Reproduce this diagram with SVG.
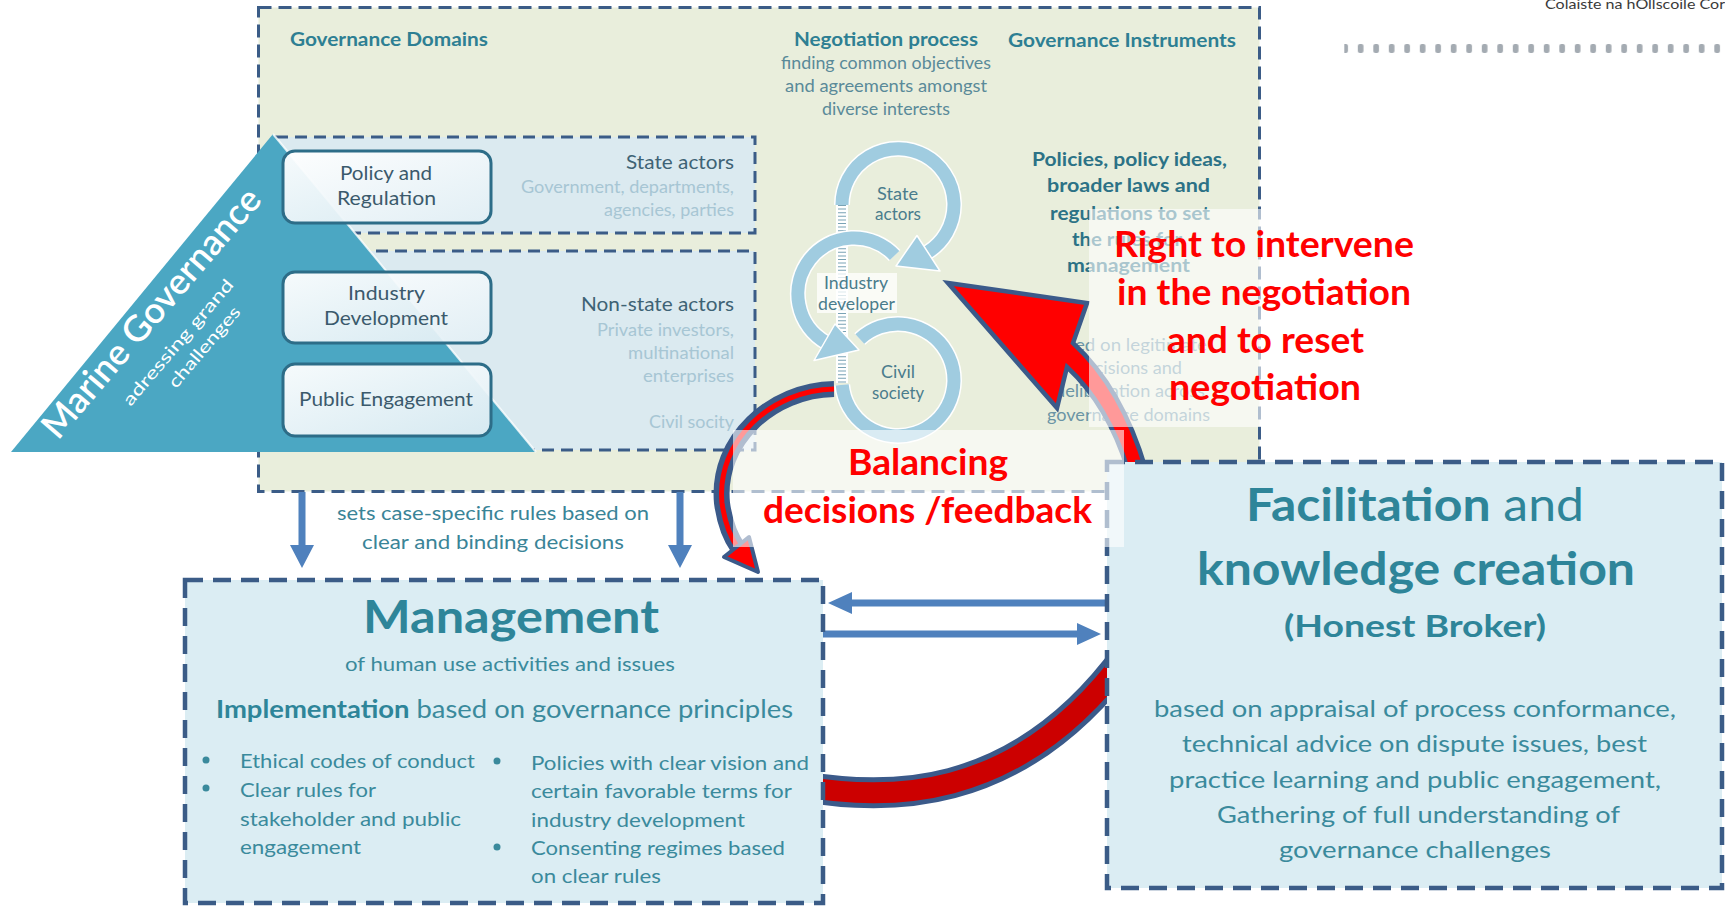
<svg xmlns="http://www.w3.org/2000/svg" width="1725" height="906" viewBox="0 0 1725 906">
<defs>
<style>
text{font-family:Lato,"Liberation Sans",Arial,sans-serif}
.dtop{fill:#e9eedc;stroke:#3b5c87;stroke-width:3;stroke-dasharray:13 7}
.din{fill:#dbeaf0;stroke:#3b5c87;stroke-width:3;stroke-dasharray:12 7}
.dbig{fill:#dbedf3;stroke:#3b5c87;stroke-width:4.5;stroke-dasharray:18 10}
.pill{fill:url(#pillg);stroke:#2d6d88;stroke-width:3}
.pt{font-size:20px;fill:#3b5a6c}
.h{font-weight:bold;fill:#2e7f93;font-size:19px}
.sa{font-size:19px;fill:#3e6375}
.sub{font-size:16.5px;fill:#a7c6d4}
.neg{font-size:16.5px;fill:#5a8a99}
.pol{font-size:19px;font-weight:bold;fill:#2c7286}
.leg{font-size:16.5px;fill:#6b95a5}
.rw{fill:none;stroke:#fff;stroke-width:16}
.rg{fill:none;stroke:#a0cce0;stroke-width:13}
.rh{fill:#a0cce0;stroke:#fff;stroke-width:1.5;stroke-linejoin:round}
.rt{font-size:16.5px;fill:#4a7c8c}
.blue{fill:#4f81bd}
.bt{fill:#3a8a9c}
.red{fill:#ff0000;font-weight:bold;font-size:36px}
.ov{fill:#fff;fill-opacity:.6}
</style>
<linearGradient id="pillg" x1="0" y1="0" x2="1" y2="1"><stop offset="0" stop-color="#ffffff" stop-opacity=".95"/><stop offset="1" stop-color="#e2eff5" stop-opacity=".92"/></linearGradient>
<pattern id="dots" x="1342.3" y="44" width="15.5" height="9" patternUnits="userSpaceOnUse"><rect width="5.7" height="9" rx="2" fill="#a4abb2"/></pattern>
</defs>

<g id="logo">
<text x="1545" y="8.5" font-size="12.5" fill="#3a3a3a" textLength="180" lengthAdjust="spacingAndGlyphs">Colaiste na hOllscoile Cor</text>
<rect x="1344.3" y="44" width="381" height="9" fill="url(#dots)"/>
</g>

<g id="top-panel">
<rect class="dtop" x="258.5" y="7.5" width="1001" height="484"/>
<rect class="din" x="276" y="137" width="479" height="96"/>
<rect class="din" x="300" y="251" width="455" height="199"/>
<text class="h" x="290" y="46" textLength="198" lengthAdjust="spacingAndGlyphs">Governance Domains</text>
<text class="sa" x="626" y="169" textLength="108" lengthAdjust="spacingAndGlyphs">State actors</text>
<text class="sub" x="521" y="193" textLength="213" lengthAdjust="spacingAndGlyphs">Government, departments,</text>
<text class="sub" x="604" y="216" textLength="130" lengthAdjust="spacingAndGlyphs">agencies, parties</text>
<text class="sa" x="581" y="311" textLength="153" lengthAdjust="spacingAndGlyphs">Non-state actors</text>
<text class="sub" x="597" y="336" textLength="137" lengthAdjust="spacingAndGlyphs">Private investors,</text>
<text class="sub" x="628" y="359" textLength="106" lengthAdjust="spacingAndGlyphs">multinational</text>
<text class="sub" x="643" y="382" textLength="91" lengthAdjust="spacingAndGlyphs">enterprises</text>
<text class="sub" x="649" y="428" textLength="85" lengthAdjust="spacingAndGlyphs">Civil socity</text>
</g>

<g id="marine-governance">
<polygon points="11,452 273,134 536,452" fill="#4ba7c3"/>
<line x1="273" y1="134" x2="536" y2="452" stroke="#fff" stroke-width="2" stroke-opacity=".8"/>
<g transform="translate(58 441) rotate(-49.5)" fill="#fff">
<text x="0" y="0" font-family="'Open Sans',Lato,sans-serif" font-weight="600" font-size="36" textLength="316" lengthAdjust="spacingAndGlyphs">Marine Governance</text>
<text x="73" y="33" font-size="17" textLength="160" lengthAdjust="spacingAndGlyphs">adressing grand</text>
<text x="116" y="56" font-size="17" textLength="101" lengthAdjust="spacingAndGlyphs">challenges</text>
</g>
</g>

<g id="policy-regulation">
<rect class="pill" x="283" y="151" width="208" height="72" rx="12"/>
<text class="pt" x="340" y="180" textLength="92" lengthAdjust="spacingAndGlyphs">Policy and</text>
<text class="pt" x="337" y="205" textLength="99" lengthAdjust="spacingAndGlyphs">Regulation</text>
</g>
<g id="industry-development">
<rect class="pill" x="283" y="272" width="208" height="71" rx="12"/>
<text class="pt" x="348" y="300" textLength="77" lengthAdjust="spacingAndGlyphs">Industry</text>
<text class="pt" x="324" y="325" textLength="124" lengthAdjust="spacingAndGlyphs">Development</text>
</g>
<g id="public-engagement">
<rect class="pill" x="283" y="364" width="208" height="72" rx="12"/>
<text class="pt" x="299" y="406" textLength="174" lengthAdjust="spacingAndGlyphs">Public Engagement</text>
</g>

<g id="negotiation-process">
<text class="h" x="794" y="46" textLength="184" lengthAdjust="spacingAndGlyphs">Negotiation process</text>
<text class="neg" x="781" y="69" textLength="210" lengthAdjust="spacingAndGlyphs">finding common objectives</text>
<text class="neg" x="785" y="92" textLength="202" lengthAdjust="spacingAndGlyphs">and agreements amongst</text>
<text class="neg" x="822" y="115" textLength="128" lengthAdjust="spacingAndGlyphs">diverse interests</text>
<rect x="836" y="205" width="12" height="178" fill="#fff"/>
<line x1="842" y1="205" x2="842" y2="383" stroke="#7aa3b5" stroke-width="8" stroke-dasharray="1 2.6"/>
<path class="rw" d="M859.8 339 A56 56 0 1 1 842.2 384.9"/>
<path class="rg" d="M859.8 339 A56 56 0 1 1 842.2 384.9"/>
<path class="rw" d="M894.6 255.5 A56 56 0 1 0 826 342.5"/>
<path class="rg" d="M894.6 255.5 A56 56 0 1 0 826 342.5"/>
<polygon class="rh" points="835,324 814,360.5 859,350"/>
<path class="rw" d="M842 205 A56 56 0 1 1 928 252"/>
<path class="rg" d="M842 205 A56 56 0 1 1 928 252"/>
<polygon class="rh" points="917,235.5 940,271 896,266"/>
<rect x="817" y="273" width="80" height="40" fill="#fff" fill-opacity=".75"/>
<text class="rt" x="877" y="200" textLength="41" lengthAdjust="spacingAndGlyphs">State</text>
<text class="rt" x="875" y="220" textLength="46" lengthAdjust="spacingAndGlyphs">actors</text>
<text class="rt" x="824" y="289" textLength="64" lengthAdjust="spacingAndGlyphs">Industry</text>
<text class="rt" x="818" y="310" textLength="77" lengthAdjust="spacingAndGlyphs">developer</text>
<text class="rt" x="881" y="378" textLength="34" lengthAdjust="spacingAndGlyphs">Civil</text>
<text class="rt" x="872" y="399" textLength="52" lengthAdjust="spacingAndGlyphs">society</text>
</g>

<g id="governance-instruments">
<text class="h" x="1008" y="47" textLength="228" lengthAdjust="spacingAndGlyphs">Governance Instruments</text>
<text class="pol" x="1032" y="166" textLength="195" lengthAdjust="spacingAndGlyphs">Policies, policy ideas,</text>
<text class="pol" x="1047" y="192" textLength="163" lengthAdjust="spacingAndGlyphs">broader laws and</text>
<text class="pol" x="1050" y="220" textLength="160" lengthAdjust="spacingAndGlyphs">regulations to set</text>
<text class="pol" x="1072" y="246" textLength="110" lengthAdjust="spacingAndGlyphs">the rules for</text>
<text class="pol" x="1067" y="272" textLength="123" lengthAdjust="spacingAndGlyphs">management</text>
<text class="leg" x="1047" y="351" textLength="160" lengthAdjust="spacingAndGlyphs">based on legitimate</text>
<text class="leg" x="1075" y="374" textLength="107" lengthAdjust="spacingAndGlyphs">decisions and</text>
<text class="leg" x="1055" y="397" textLength="150" lengthAdjust="spacingAndGlyphs">deliberation across</text>
<text class="leg" x="1047" y="421" textLength="163" lengthAdjust="spacingAndGlyphs">governance domains</text>
</g>

<g id="connectors">
<polygon class="blue" points="298.5,492 305.5,492 305.5,545 314,545 302,568 290,545 298.5,545"/>
<polygon class="blue" points="676.5,492 683.5,492 683.5,545 692,545 680,568 668,545 676.5,545"/>
<polygon class="blue" points="1107,599.5 852,599.5 852,592 828,603 852,614 852,606.5 1107,606.5"/>
<polygon class="blue" points="823,630.5 1077,630.5 1077,623 1101,634 1077,645 1077,637.5 823,637.5"/>
<path d="M800 786 C880 800 1015 808 1127 655" fill="none" stroke="#3b5a8a" stroke-width="31"/>
<path d="M800 786 C880 800 1015 808 1127 655" fill="none" stroke="#cc0000" stroke-width="21"/>
<path d="M834 389 C772 390 716 440 722 503 C725 525 731 538 738 548" fill="none" stroke="#3b5a8a" stroke-width="16"/>
<path d="M834 389 C772 390 716 440 722 503 C725 525 731 538 738 548" fill="none" stroke="#ff0000" stroke-width="5"/>
<polygon points="724,557 749,537 758,572" fill="#ff0000" stroke="#3b5a8a" stroke-width="4" stroke-linejoin="round"/>
<path d="M948 283 L1087 303 L1073 343 Q1122 388 1146 470 L1128 470 Q1108 405 1067 367 L1057 408 Z" fill="#ff0000" stroke="#3b5a8a" stroke-width="4.5"/>
<text x="337" y="520" font-size="19.5" fill="#3a8497" textLength="312" lengthAdjust="spacingAndGlyphs">sets case-specific rules based on</text>
<text x="362" y="549" font-size="19.5" fill="#3a8497" textLength="262" lengthAdjust="spacingAndGlyphs">clear and binding decisions</text>
</g>

<g id="management">
<rect class="dbig" x="185" y="580" width="638" height="323"/>
<text x="363" y="633" font-size="45" font-weight="bold" fill="#2e8599" textLength="296" lengthAdjust="spacingAndGlyphs">Management</text>
<text class="bt" x="345" y="671" font-size="20" textLength="330" lengthAdjust="spacingAndGlyphs">of human use activities and issues</text>
<text class="bt" x="216" y="718" font-size="25" textLength="577" lengthAdjust="spacingAndGlyphs"><tspan font-weight="bold" fill="#2e8599">Implementation</tspan> based on governance principles</text>
<g class="bt" font-size="20">
<circle cx="206" cy="760" r="3.5"/><circle cx="206" cy="788" r="3.5"/>
<circle cx="497" cy="761" r="3.5"/><circle cx="497" cy="847" r="3.5"/>
<text x="240" y="768" textLength="235" lengthAdjust="spacingAndGlyphs">Ethical codes of conduct</text>
<text x="240" y="797" textLength="136" lengthAdjust="spacingAndGlyphs">Clear rules for</text>
<text x="240" y="826" textLength="221" lengthAdjust="spacingAndGlyphs">stakeholder and public</text>
<text x="240" y="854" textLength="121" lengthAdjust="spacingAndGlyphs">engagement</text>
<text x="531" y="770" textLength="278" lengthAdjust="spacingAndGlyphs">Policies with clear vision and</text>
<text x="531" y="798" textLength="261" lengthAdjust="spacingAndGlyphs">certain favorable terms for</text>
<text x="531" y="827" textLength="214" lengthAdjust="spacingAndGlyphs">industry development</text>
<text x="531" y="855" textLength="254" lengthAdjust="spacingAndGlyphs">Consenting regimes based</text>
<text x="531" y="883" textLength="130" lengthAdjust="spacingAndGlyphs">on clear rules</text>
</g>
</g>

<g id="facilitation">
<rect class="dbig" x="1107" y="462" width="615" height="426"/>
<text x="1246" y="521" font-size="46" fill="#2e8599" textLength="338" lengthAdjust="spacingAndGlyphs"><tspan font-weight="bold">Facilitation</tspan> and</text>
<text x="1197" y="585" font-size="46" font-weight="bold" fill="#2e8599" textLength="438" lengthAdjust="spacingAndGlyphs">knowledge creation</text>
<text x="1284" y="637" font-size="31" font-weight="bold" fill="#2e8599" textLength="262" lengthAdjust="spacingAndGlyphs">(Honest Broker)</text>
<g class="bt" font-size="24">
<text x="1154" y="717" textLength="522" lengthAdjust="spacingAndGlyphs">based on appraisal of process conformance,</text>
<text x="1182" y="752" textLength="465" lengthAdjust="spacingAndGlyphs">technical advice on dispute issues, best</text>
<text x="1169" y="788" textLength="492" lengthAdjust="spacingAndGlyphs">practice learning and public engagement,</text>
<text x="1217" y="823" textLength="403" lengthAdjust="spacingAndGlyphs">Gathering of full understanding of</text>
<text x="1279" y="858" textLength="272" lengthAdjust="spacingAndGlyphs">governance challenges</text>
</g>
</g>

<g id="label-intervene">
<rect class="ov" x="1089" y="209" width="331" height="218"/>
<text class="red" x="1114" y="257" textLength="300" lengthAdjust="spacingAndGlyphs">Right to intervene</text>
<text class="red" x="1117" y="305" textLength="294" lengthAdjust="spacingAndGlyphs">in the negotiation</text>
<text class="red" x="1167" y="353" textLength="197" lengthAdjust="spacingAndGlyphs">and to reset</text>
<text class="red" x="1169" y="400" textLength="192" lengthAdjust="spacingAndGlyphs">negotiation</text>
</g>
<g id="label-balancing">
<rect class="ov" x="733" y="430" width="391" height="117"/>
<text class="red" x="848" y="475" textLength="160" lengthAdjust="spacingAndGlyphs">Balancing</text>
<text class="red" x="763" y="523" textLength="329" lengthAdjust="spacingAndGlyphs">decisions /feedback</text>
</g>
</svg>
